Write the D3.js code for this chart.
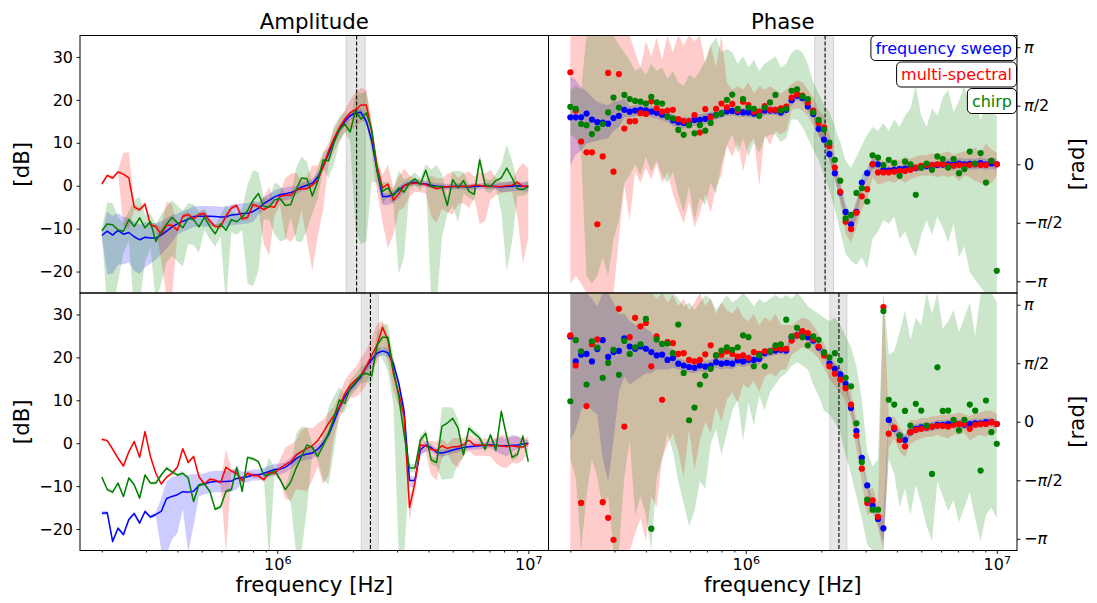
<!DOCTYPE html>
<html><head><meta charset="utf-8">
<script src="https://cdn.jsdelivr.net/npm/d3@7"></script>
<style>body{margin:0;background:#fff}text{font-family:"DejaVu Sans",sans-serif;fill:#000}</style>
</head><body><svg id="c" width="1097" height="603"></svg>
<script>
// ---------- DATA ----------
const freqKHz = [200,210.2,220.8,232.0,243.8,256.2,269.2,282.9,297.2,312.3,
328.2,344.8,362.3,380.7,400.0,420.3,441.6,464.1,487.6,512.4,
538.4,565.7,594.4,624.6,656.3,689.6,724.6,761.4,800.0,840.6,
883.3,928.2,975.3,1024.8,1076.8,1131.5,1188.9,1249.3,1312.7,1379.3,
1449.3,1522.9,1600.2,1681.4,1766.8,1856.5,1950.7,2049.7,2153.8,2263.1,
2378.0,2498.7,2625.6,2758.9,2898.9,3046.1,3200.7,3363.2,3533.9,3713.3,
3901.8,4099.9,4308.0,4526.7,4756.5,4998.0,5251.7,5518.3,5798.4,6092.8,
6402.1,6727.1,7068.6,7427.4,7804.5,8200.7,8617.0,9054.4,9514.0,10000];
const seriesNames = ["frequency sweep","multi-spectral","chirp"];
const ampTicks = [-20,-10,0,10,20,30];
const phaseTickLabels = ["−π","−π/2","0","π/2","π"];
const xMajorTicks = [1e6,1e7];
const spanTopKHz = [1880,2240], dashTopKHz = 2070;
const spanBotKHz = [2160,2530], dashBotKHz = 2350;

// top amplitude [dB]
const ampTopFS = [-11.6,-10.6,-11.5,-10.4,-11.3,-10.9,-11.9,-12.6,-12.0,-12.2,
-12.2,-11.5,-10.6,-9.6,-8.9,-8.3,-7.8,-7.2,-7.1,-7.1,
-7.1,-7.2,-7.3,-7.3,-6.8,-6.7,-6.5,-6.4,-6.0,-5.3,
-4.2,-3.4,-2.6,-2.1,-1.9,-1.6,-1.1,-0.3,0.1,0.6,
2.0,4.5,7.5,10.5,13.0,15.0,16.3,17.0,17.1,15.0,
10.5,3.5,-2.5,-2.5,-2.0,-1.0,0.0,0.6,0.8,0.5,
0.4,0.1,-0.1,-0.2,-0.3,-0.2,-0.1,-0.2,-0.3,-0.2,
-0.1,0.0,-0.1,-0.2,-0.3,-0.2,-0.1,0.0,-0.1,-0.2];
const ampTopFSup = [0.5,4.5,4.5,4.0,4.0,3.5,3.5,3.5,3.5,3.5,
3.5,3.2,3.0,2.8,2.4,2.4,2.4,2.4,2.4,2.4,
2.4,2.4,2.4,2.4,2.4,2.4,2.4,2.4,2.4,1.5,
1.5,1.5,1.5,1.5,1.5,1.5,1.0,1.0,1.0,1.0,
1.0,1.0,1.0,1.0,1.0,1.0,1.0,1.0,1.0,1.0,
1.0,1.0,0.8,0.8,0.8,0.8,0.8,0.7,0.7,0.7,
0.7,0.7,0.7,0.7,0.7,0.7,0.7,0.7,0.7,0.7,
0.7,0.7,0.7,0.7,1.0,1.0,1.0,1.0,1.0,1.0];
const ampTopFSdn = [0.5,10,9,8,7,7,8,8,7,6,
5,4.5,4,3.5,2.4,2.4,2.4,2.4,2.4,2.4,
2.4,2.4,2.4,2.4,2.4,2.4,2.4,2.4,2.4,1.5,
1.5,1.5,1.5,1.5,1.5,1.5,1.0,1.0,1.0,1.0,
1.0,1.0,1.0,1.0,1.0,1.0,1.0,1.0,1.0,1.0,
1.0,1.5,2.0,2.0,2.0,2.0,1.5,0.7,0.7,0.7,
0.7,0.7,0.7,0.7,0.7,0.7,0.7,0.7,0.7,0.7,
0.7,0.7,0.7,0.7,1.2,1.2,1.2,1.2,1.2,1.2];
const ampTopMS = [0.4,2.4,1.8,3.2,2.7,1.8,-5.0,-5.6,-4.3,-9.1,
-9.5,-11.4,-9.2,-9.2,-10.4,-7.1,-6.7,-7.7,-6.7,-6.5,
-8.3,-9.5,-9.5,-7.1,-5.2,-4.6,-7.7,-7.4,-4.4,-4.8,
-5.6,-4.8,-5.0,-2.5,-2.2,-2.2,-1.0,-0.7,-0.7,0.2,
1.2,4.5,8.0,11.0,13.5,15.5,17.0,17.7,18.8,18.8,
12.5,4.5,-0.5,0.4,-3.4,-1.9,0.0,0.4,0.6,0.5,
0.2,-0.2,-0.7,-0.4,-0.2,-0.2,-0.2,-0.1,-0.2,0.1,
0.1,-0.2,-0.2,-0.2,-0.2,0.0,0.1,0.8,-0.2,0.0];
const ampTopMSup = [0.4,0.4,0.4,0.4,5,6,0.6,0.6,0.6,0.6,
0.6,2,5.5,5,0.6,0.6,0.6,0.6,0.6,0.6,
0.6,0.6,0.6,0.6,0.6,0.6,0.6,0.6,0.6,0.6,
3,4.5,1,1,4,5,4,2,3,4.5,
3.5,3,2,2,2,2,3,4,4,3.5,
2,2,3,4.5,3,4,4,2,1,1,
1,2.5,2.5,2,3,3.5,2,3,3.5,2,
3,3,4,2,1,1,1,3,5.5,4];
const ampTopMSdn = [0.4,0.4,0.4,0.4,12,12,0.6,0.6,0.6,0.6,
0.6,6,17,17,0.6,0.6,0.6,0.6,0.6,0.6,
0.6,0.6,0.6,0.6,0.6,0.6,0.6,0.6,0.6,0.6,
8,11.5,2,2,10,11,10,5,12,20,
13,10,3,3,3,3,4,4,4,3.5,
5,6,8,15,8,4,5,3,2,2,
2,7,8,5,6,6.5,4,4,5,3,
9,8,3,2,1.5,1.5,1.5,8,18,12];
const ampTopCH = [-10.5,-8.9,-9.1,-10.3,-10.6,-7.9,-9.5,-7.5,-9.8,-8.4,
-13.0,-10.7,-8.9,-7.4,-8.6,-9.8,-7.6,-7.9,-9.6,-7.3,
-9.5,-11.2,-8.9,-10.4,-7.9,-8.4,-7.3,-5.8,-3.4,-1.8,
-4.8,-5.0,-3.3,-3.0,-4.6,-4.4,-0.9,1.8,1.6,-2.4,
1.0,6.0,5.8,10.0,13.0,14.4,12.5,17.5,15.5,17.0,
13.0,3.5,-1.3,-0.5,-2.4,-0.5,-1.5,0.6,1.6,0.3,
3.6,-0.2,-0.2,-0.2,-4.6,1.4,-0.5,1.2,-1.3,-2.0,
6.0,0.2,-0.2,1.2,1.8,4.1,1.8,-0.7,-0.9,-0.2];
const ampTopCHup = [0.5,5,5,3,2,2,6,5,3,2,
4,4,4,4,4,4,3.5,3.5,3.5,2,
2,2,2,6,2,2,2,6,7,5,
2,2,4,3,3,2,5,5,4,3,
3,2,3,4,3,3,2,4,6,5,
2,2,2,1.5,1.5,4,3,1.5,1.5,1.5,
1.5,4,5,3,2,2,4,2,1.5,1.5,
1.5,1.5,1.5,1.5,3,5.5,4,1.5,1.5,1.5];
const ampTopCHdn = [0.5,20,20,12,5,5,20,20,8,6,
14,12,9,9,9,9,6,6,6,3,
3,3,3,17,3,3,3,17,20,18,
3,3,8,10,8,3,12,15,12,4,
4,2,4,5,3,2,2,28,29,30,
12,3,3,2,2,20,15,1.5,1.5,1.5,
1.5,26,28,12,2,6,8,3,1.5,1.5,
1.5,1.5,1.5,1.5,8,24,15,1.5,1.5,1.5];

// top phase [rad]
const phTopFS = [1.26,1.26,1.26,1.36,1.20,1.13,1.12,1.09,1.24,1.30,
1.46,1.41,1.44,1.46,1.45,1.41,1.38,1.33,1.28,1.18,
1.13,1.11,1.12,1.19,1.19,1.22,1.28,1.32,1.36,1.42,
1.43,1.40,1.39,1.39,1.36,1.38,1.44,1.44,1.44,1.39,
1.46,1.72,1.84,1.78,1.55,1.35,0.95,0.66,0.27,-0.24,
-0.76,-1.28,-1.61,-1.28,-0.49,-0.24,0.0,0.0,-0.15,-0.17,
-0.15,-0.13,-0.12,-0.10,-0.10,-0.08,-0.05,-0.03,-0.02,-0.01,
0.0,0.0,0.02,0.0,0.01,0.0,0.03,0.0,0.02,0.0];
const phTopFSup = [1.1,1.0,0.8,0.6,0.6,0.55,0.5,0.5,0.45,0.4,
0.3,0.15,0.15,0.15,0.15,0.15,0.15,0.15,0.15,0.15,
0.15,0.15,0.15,0.15,0.15,0.15,0.12,0.12,0.12,0.12,
0.12,0.12,0.12,0.12,0.12,0.12,0.12,0.12,0.12,0.12,
0.12,0.12,0.12,0.12,0.12,0.12,0.15,0.15,0.15,0.15,
0.2,0.2,0.2,0.2,0.2,0.15,0.15,0.1,0.1,0.1,
0.1,0.1,0.1,0.1,0.1,0.1,0.1,0.1,0.1,0.1,
0.15,0.15,0.15,0.15,0.15,0.15,0.15,0.15,0.15,0.15];
const phTopFSdn = [1.3,1.0,0.9,0.8,0.6,0.5,0.45,0.4,0.35,0.3,
0.2,0.15,0.15,0.15,0.15,0.15,0.15,0.15,0.15,0.15,
0.15,0.15,0.15,0.15,0.15,0.15,0.12,0.12,0.12,0.12,
0.12,0.12,0.12,0.12,0.12,0.12,0.12,0.12,0.12,0.12,
0.12,0.12,0.12,0.12,0.12,0.12,0.15,0.15,0.15,0.15,
0.2,0.2,0.2,0.2,0.2,0.15,0.15,0.1,0.1,0.1,
0.1,0.1,0.1,0.1,0.1,0.1,0.1,0.1,0.1,0.1,
0.15,0.15,0.15,0.15,0.15,0.15,0.15,0.15,0.15,0.15];
const phTopMS = [2.47,1.44,0.61,0.32,0.32,-1.61,0.21,2.45,-0.20,2.42,
0.96,1.15,1.16,1.37,1.35,1.69,1.50,1.41,1.44,1.46,
1.21,1.16,1.16,1.32,0.85,1.48,1.26,1.49,1.63,1.53,
1.62,1.44,1.68,1.59,1.41,1.41,1.56,1.46,1.46,1.50,
1.55,1.79,1.88,1.84,1.66,1.44,1.11,0.99,0.49,-0.09,
-0.74,-1.54,-1.74,-1.30,-0.86,-0.67,0.0,-0.22,-0.22,-0.22,
-0.20,-0.18,-0.18,-0.15,-0.09,-0.04,-0.02,-0.02,0.0,0.0,
-0.04,-0.04,-0.02,-0.04,-0.02,0.0,-0.02,-0.02,0.09,0.0];
const phTopMSlo = [-3.2,-3.0,-3.2,-3.46,-3.46,-3.46,-3.46,-3.46,-3.46,-2.0,
-0.6,-1.5,-0.2,-0.5,-0.1,-0.4,0.0,-0.5,-0.2,-0.8,
-1.2,-1.6,-1.0,-1.7,-1.3,-0.8,-1.3,-0.6,-0.3,0.5,
0.2,0.6,-0.2,0.5,0.7,-0.6,0.8,0.5,0.9,0.8,
0.9,1.45,1.5,1.45,1.3,1.05,0.75,0.6,0.15,-0.4,
-1.05,-1.85,-2.1,-1.7,-1.2,-0.95,-0.35,-0.55,-0.5,-0.45,
-0.5,-0.4,-0.5,-0.4,-0.35,-0.3,-0.3,-0.3,-0.35,-0.3,
-0.35,-0.3,-0.45,-0.3,-0.35,-0.45,-0.5,-0.6,-0.5,-0.3];
const phTopMShi = [3.46,3.46,3.46,3.46,3.46,3.46,3.46,3.46,3.46,3.46,
3.46,3.46,3.0,2.6,3.3,2.9,3.4,2.8,3.46,3.0,
3.46,3.2,3.46,3.3,3.46,2.7,3.2,2.6,3.46,2.2,
2.0,2.1,2.0,2.2,1.9,2.1,2.0,2.1,2.0,1.9,
2.0,2.15,2.25,2.2,2.0,1.8,1.45,1.3,0.8,0.2,
-0.4,-1.25,-1.4,-0.95,-0.5,-0.35,0.35,0.2,0.1,0.05,
0.15,0.1,0.2,0.15,0.2,0.25,0.25,0.3,0.25,0.3,
0.35,0.25,0.3,0.35,0.35,0.45,0.3,0.55,0.4,0.3];
const phTopCH = [1.54,1.49,1.08,1.05,0.81,0.96,1.08,1.39,1.79,1.52,
1.86,1.75,1.70,1.68,1.63,1.81,1.66,1.63,1.28,1.23,
0.92,0.79,1.05,0.83,1.05,0.90,1.11,1.32,1.37,1.73,
1.87,1.49,1.75,1.52,1.49,1.30,1.52,1.66,1.86,1.44,
1.49,1.97,2.01,1.82,1.75,1.39,1.19,0.93,0.58,0.12,
-0.44,-1.45,-1.36,-0.77,-0.64,-1.00,0.24,0.18,-0.02,0.12,
0.03,-0.31,0.07,0.00,-0.82,-0.09,0.02,-0.15,0.21,0.14,
-0.09,0.14,-0.24,-0.13,0.34,0.02,0.30,-0.49,0.09,-2.86];
const phTopCHlo = [0.8,0.7,0.3,-3.0,-3.2,-3.0,-2.5,-3.0,-2.0,-1.5,
-0.5,-0.3,0.0,-0.3,0.2,-0.2,0.1,-0.3,-0.5,-0.2,
-0.8,-1.3,-0.6,-1.5,-0.9,-1.1,-0.5,-0.8,0.0,0.5,
0.8,0.3,0.7,0.2,0.6,0.3,0.7,0.8,0.8,0.6,
0.7,1.2,1.2,1.0,0.7,0.4,0.1,-0.3,-0.7,-1.2,
-1.8,-2.4,-2.6,-2.7,-2.5,-2.8,-2.0,-1.8,-1.5,-1.6,
-1.4,-2.0,-1.8,-2.2,-2.5,-1.9,-1.5,-1.9,-1.4,-1.7,
-2.1,-1.6,-2.5,-2.2,-2.9,-3.1,-3.3,-3.5,-3.5,-3.5];
const phTopCHhi = [2.0,2.1,2.0,3.46,3.46,3.46,3.46,3.46,3.46,3.2,
3.0,2.8,2.5,2.6,2.4,2.7,2.5,2.6,2.3,2.5,
2.2,2.1,2.4,2.3,2.5,2.8,3.2,3.4,3.0,3.1,
3.0,2.7,2.9,2.6,2.8,2.5,2.7,2.8,2.9,2.6,
2.7,3.0,3.1,3.0,2.7,2.2,1.9,1.6,1.4,1.0,
0.6,0.1,-0.1,0.2,0.5,0.8,1.0,0.9,1.1,0.9,
1.2,1.0,1.3,1.5,2.1,1.3,1.0,1.5,1.3,1.8,
2.0,1.4,1.7,2.1,1.5,1.7,1.2,1.6,1.4,1.3];

// bottom amplitude [dB]
const ampBotFS = [-16.3,-16.2,-22.9,-19.8,-21.3,-17.8,-16.4,-18.6,-15.9,-17.2,
-16.6,-15.9,-12.9,-12.4,-12.0,-11.3,-11.4,-11.2,-9.8,-9.5,
-9.1,-8.9,-8.9,-8.9,-8.8,-8.2,-8.0,-7.8,-7.4,-7.4,
-7.0,-6.6,-6.1,-6.0,-5.6,-4.7,-3.6,-2.9,-2.5,-2.3,
-1.4,0.0,2.0,5.0,8.3,10.8,12.6,14.0,15.5,17.8,
19.5,21.0,21.5,21.1,18.6,14.0,7.5,-8.7,-8.7,-1.6,
-0.4,-1.0,-2.1,-2.3,-2.0,-1.6,-1.3,-1.0,-0.8,-0.7,
-0.6,-0.5,-0.4,-0.5,-0.6,-0.6,-0.5,-0.4,-0.2,0.0];
const ampBotFSup = [0.5,0.5,0.5,0.5,0.5,0.5,0.5,0.5,0.5,0.5,
0.5,3,4,4.5,4.5,4,4,4,2.5,2.5,
2.5,2.5,2.5,2.5,2.5,2.5,1.3,1.3,1.3,1.3,
1.3,1.3,1.3,1.3,1.3,1.3,1.3,1.3,1.3,1.3,
1.3,1,1,1,1,1,1,1,1,1,
1,1,1,1,1,1,1,1,1,1,
1,0.8,0.8,0.8,0.8,0.8,0.8,0.8,0.8,0.8,
0.8,0.8,0.8,1.5,2,1.5,2.5,2,1,0.8];
const ampBotFSdn = [0.5,0.5,0.5,0.5,0.5,0.5,0.5,0.5,0.5,0.5,
0.5,9,13,10,9,4,14,8,2.5,2.5,
2.5,2.5,2.5,2.5,2.5,2.5,1.3,1.3,1.3,1.3,
1.3,1.3,1.3,1.3,1.3,1.3,1.3,1.3,1.3,1.3,
1.3,1,1,1,1,1,1,1,1,1,
1,1,1,1,1,1,1,1.5,1.5,1.5,
1.5,0.8,0.8,0.8,0.8,0.8,0.8,0.8,0.8,0.8,
0.8,0.8,0.8,1.5,2,2.5,1.5,1,1,0.8];
const ampBotMS = [0.9,0.6,-1.4,-3.5,-5.3,-2.0,0.4,-3.3,2.7,-3.1,
-7.0,-9.5,-7.9,-7.0,-5.6,-1.3,-4.5,-3.1,-7.8,-9.5,
-8.4,-8.6,-9.2,-5.6,-6.5,-7.0,-8.7,-7.0,-7.5,-7.6,
-8.5,-6.8,-7.0,-5.8,-5.0,-4.3,-2.8,-1.9,-1.2,-0.6,
0.6,2.5,4.6,6.5,8.5,11.5,13.5,14.7,15.8,17.8,
20.5,22.9,27.0,24.0,16.3,11.6,6.2,-15.0,-9.3,-0.4,
-0.6,-1.4,-1.7,-0.6,-1.2,-0.8,-0.8,-0.3,0.7,-0.4,
-0.4,-0.4,-0.6,-0.6,-0.6,-0.8,-0.6,-0.8,-0.9,0.0];
const ampBotMSup = [0.4,0.4,0.4,0.4,0.4,0.4,0.4,0.4,0.4,0.4,
0.4,0.4,0.4,0.4,0.4,0.4,0.4,0.4,0.4,0.4,
0.4,0.4,0.4,4.2,0.6,0.6,0.6,0.6,0.6,0.6,
0.6,0.6,0.6,2,4,4,3.5,5,5,4,
4,3,2.5,2,3,3,3,3,4,4,
4,5,1.5,1.5,3,3,3,2,2,2,
1,2,2,1.5,1,2,2,1.5,1.5,1.5,
1.5,1.5,1.5,2,2.5,2.5,2,2.5,2,1.5];
const ampBotMSdn = [0.4,0.4,0.4,0.4,0.4,0.4,0.4,0.4,0.4,0.4,
0.4,0.4,0.4,0.4,0.4,0.4,0.4,0.4,0.4,0.4,
0.4,0.4,0.4,20,0.6,0.6,0.6,0.6,0.6,0.6,
0.6,0.6,0.6,3,8,9,8,9,10,8,
6,12,12,5,3,3,3,4,4,4,
3,4,4,5,4,3,3,3,2,2,
1.5,6,7,3,1,4,5,2.5,2.5,2.5,
2.5,2.5,2.5,4,5,5,4,4,3,2];
const ampBotCH = [-7.9,-10.8,-11.4,-9.3,-12.4,-8.1,-9.7,-12.8,-7.4,-9.3,
-9.3,-7.4,-5.8,-6.7,-7.4,-7.0,-8.1,-13.6,-9.7,-9.5,
-11.2,-15.4,-14.8,-11.2,-10.8,-5.6,-11.2,-3.3,-3.6,-4.3,
-7.4,-7.4,-6.4,-8.4,-10.8,-9.0,-5.8,-3.1,-0.4,-1.0,
-3.1,-0.5,2.3,6.0,10.1,9.3,12.8,14.2,15.9,16.3,
15.7,22.9,24.7,24.7,17.1,10.9,2.0,-5.8,-5.8,0.7,
2.3,-3.9,-4.5,3.9,4.7,5.8,3.5,-2.7,3.5,2.3,
1.2,-1.4,1.9,-1.6,7.4,1.6,-3.3,-2.6,1.6,-4.3];
const ampBotCHup = [0.4,0.4,0.4,0.4,0.4,0.4,0.4,0.4,0.4,0.4,
0.4,0.4,0.4,0.4,0.4,0.4,0.4,0.4,0.4,0.4,
0.4,0.4,0.4,0.4,0.4,0.4,0.4,0.4,0.4,0.4,
0.4,4,0.5,0.5,0.5,3,8,7,4,1,
1,2,6,5,3,2,2,2,2,2,
2,3,3,3,3,3,3,1,1,1,
1,1,1,4.5,3.7,2.5,2,0.8,0.8,0.8,
0.8,0.8,0.8,0.8,0.8,0.8,0.8,0.8,0.8,0.8];
const ampBotCHdn = [0.4,0.4,0.4,0.4,0.4,0.4,0.4,0.4,0.4,0.4,
0.4,0.4,0.4,0.4,0.4,0.4,0.4,0.4,0.4,0.4,
0.4,0.4,0.4,0.4,0.4,0.4,0.4,0.4,0.4,0.4,
0.4,20,0.5,0.5,0.5,5,20,22,15,1,
1,8,12,8,3,2,2,2,2,2,
2,2,5,8,8,37,28,1,1,1,
1,1,1,12.4,13,14,8,0.8,0.8,0.8,
0.8,0.8,0.8,0.8,0.8,0.8,0.8,0.8,0.8,0.8];

// bottom phase [rad]
const phBotFS = [2.29,1.62,1.80,1.82,1.62,1.95,2.19,1.74,1.87,1.90,
2.24,2.02,1.96,2.02,1.96,1.87,1.78,1.80,1.66,1.71,
1.56,1.51,1.47,1.45,1.51,1.48,1.51,1.60,1.56,1.58,
1.56,1.65,1.62,1.66,1.66,1.69,1.84,1.88,1.91,1.93,
1.91,2.27,2.32,2.41,2.27,2.18,1.99,1.84,1.57,1.42,
1.27,1.02,0.37,-0.25,-0.97,-1.71,-2.25,-2.61,-2.86,0.05,
-0.19,-0.37,-0.49,-0.28,-0.19,-0.15,-0.15,-0.13,-0.08,-0.08,
-0.06,-0.06,-0.06,-0.08,-0.06,-0.04,-0.04,-0.01,-0.01,-0.06];
const phBotFSlo = [-0.5,-0.2,0.3,0.5,0.3,0.2,-1.0,-1.6,-0.5,0.8,
1.2,1.0,1.1,1.2,1.3,1.3,1.4,1.4,1.4,1.45,
1.41,1.36,1.32,1.30,1.36,1.33,1.36,1.45,1.41,1.43,
1.41,1.50,1.47,1.51,1.51,1.54,1.72,1.76,1.79,1.81,
1.79,2.15,2.20,2.29,2.15,2.06,1.87,1.72,1.45,1.30,
1.15,0.90,0.25,-0.37,-1.09,-1.83,-2.37,-2.73,-3.25,-0.07,
-0.31,-0.49,-0.61,-0.40,-0.31,-0.27,-0.27,-0.25,-0.20,-0.20,
-0.18,-0.18,-0.18,-0.20,-0.18,-0.16,-0.16,-0.13,-0.13,-0.18];
const phBotFShi = [3.46,3.46,3.46,3.46,3.3,3.1,3.46,3.46,3.2,2.9,
2.9,2.7,2.6,2.6,2.5,2.4,2.2,2.1,2.0,1.95,
1.71,1.66,1.62,1.60,1.66,1.63,1.66,1.75,1.71,1.73,
1.71,1.80,1.77,1.81,1.81,1.84,1.96,2.00,2.03,2.05,
2.03,2.39,2.44,2.53,2.39,2.30,2.11,1.96,1.69,1.54,
1.39,1.14,0.49,-0.13,-0.85,-1.59,-2.13,-2.49,-2.5,0.17,
-0.07,-0.25,-0.37,-0.16,-0.07,-0.03,-0.03,-0.01,0.04,0.04,
0.06,0.06,0.06,0.04,0.06,0.08,0.08,0.11,0.11,0.06];
const phBotMS = [2.32,1.51,-2.18,0.42,2.08,2.21,-2.16,-2.58,-3.17,3.03,
-0.13,2.27,2.79,2.56,2.65,1.49,2.29,0.59,2.14,2.11,
1.82,1.84,1.66,1.62,1.66,1.81,2.05,1.78,1.80,1.89,
1.82,1.75,1.78,1.71,1.87,1.82,1.89,1.89,1.98,1.96,
1.96,2.18,2.32,2.43,2.38,2.22,2.02,1.78,1.49,1.29,
1.13,0.90,0.46,-0.37,-1.26,-2.18,-2.11,-2.55,3.08,-0.32,
-0.16,-0.49,-0.66,-0.28,-0.22,-0.19,-0.16,-0.13,-0.11,-0.11,
-0.13,-0.08,-0.06,-0.06,-0.19,-0.08,-0.06,-0.06,-0.01,-0.06];
const phBotMSlo = [-3.46,-3.46,-3.46,-3.46,-3.46,-3.46,-3.46,-3.46,-3.46,-3.46,
-3.46,-3.46,-3.0,-2.6,-3.2,-2.0,-2.3,-1.0,-0.6,-0.3,
-0.8,-1.5,-0.2,-1.3,-0.5,0.0,-0.3,0.4,0.0,0.6,
0.8,0.5,1.0,0.9,1.1,0.8,1.2,1.3,1.2,1.4,
1.4,1.8,1.9,2.0,1.95,1.85,1.7,1.45,1.15,0.95,
0.8,0.55,0.1,-0.75,-1.6,-2.5,-2.45,-2.85,-3.46,-0.7,
-0.45,-0.8,-0.95,-0.6,-0.5,-0.45,-0.4,-0.4,-0.35,-0.4,
-0.45,-0.35,-0.35,-0.3,-0.5,-0.4,-0.35,-0.4,-0.3,-0.3];
const phBotMShi = [3.46,3.46,3.46,3.46,3.46,3.46,3.46,3.46,3.46,3.46,
3.46,3.46,3.46,3.46,3.46,3.46,3.3,3.46,3.2,3.4,
3.1,3.3,3.0,3.2,3.46,3.1,3.3,2.9,3.2,3.0,
2.9,3.1,2.8,2.7,2.9,2.6,2.8,2.7,2.9,2.6,
2.6,2.6,2.7,2.8,2.75,2.6,2.35,2.1,1.8,1.6,
1.45,1.25,0.8,0.05,-0.9,-1.85,-1.75,-2.2,3.46,0.1,
0.15,-0.15,-0.35,0.05,0.05,0.1,0.1,0.15,0.15,0.2,
0.2,0.2,0.25,0.2,0.15,0.25,0.25,0.3,0.3,0.2];
const phBotCH = [0.55,2.19,1.89,1.00,2.16,1.99,1.18,1.58,1.93,1.26,
2.17,1.82,2.00,2.08,2.76,-2.87,2.21,2.09,2.10,1.84,
2.61,1.31,0.04,0.38,1.00,1.24,1.42,1.78,1.91,2.00,
1.93,2.00,2.32,2.27,1.49,1.78,1.49,1.89,2.05,2.08,
2.74,2.29,2.52,2.27,2.05,2.29,2.20,1.86,1.73,1.84,
1.65,1.18,0.95,-0.04,-1.08,-2.09,-2.36,-2.36,2.97,0.59,
0.46,-0.37,0.29,-0.10,0.48,0.30,-0.10,-1.40,1.46,0.29,
0.30,0.05,-0.23,0.05,0.46,0.30,-1.31,0.57,-0.28,-0.59];
const phBotCHlo = [-1.0,-1.5,-3.46,-2.0,-1.0,-1.5,-2.3,-2.0,-3.46,-3.46,
-1.5,-0.5,-2.5,-2.0,-2.5,-3.46,-1.5,-1.0,-0.3,-0.8,
-1.6,-2.2,-2.8,-2.4,-1.6,-1.8,-0.6,-0.2,-0.9,-0.3,
0.3,0.6,-0.5,0.5,-0.1,0.7,0.3,0.8,1.0,1.2,
1.3,1.5,1.6,1.5,1.4,1.0,0.7,0.3,0.2,0.0,
-0.3,-0.9,-1.4,-2.0,-2.6,-3.3,-3.46,-3.46,-3.46,-1.0,
-1.4,-2.3,-1.8,-2.5,-1.7,-2.2,-2.8,-3.2,-1.6,-2.0,
-2.4,-2.1,-2.7,-2.3,-1.9,-2.6,-3.2,-2.5,-2.3,-2.6];
const phBotCHhi = [3.46,3.46,3.46,3.46,3.46,3.46,3.46,3.46,3.46,3.46,
3.46,3.46,3.46,3.46,3.46,3.46,3.46,3.46,3.46,3.46,
3.3,3.1,3.2,3.0,3.2,3.4,3.3,3.0,3.2,3.4,
3.2,3.3,3.46,3.3,3.1,3.3,3.2,3.3,3.4,3.3,
3.4,3.3,3.46,3.3,3.1,3.0,2.9,2.8,2.7,2.8,
2.6,2.3,2.0,1.5,0.6,-0.8,-1.2,-1.0,3.46,1.8,
1.9,2.4,3.0,2.2,2.8,2.6,3.46,2.9,3.46,2.5,
2.7,3.0,2.4,2.8,3.2,2.3,3.46,3.46,3.46,3.2];

// ---------- CHECK ----------
{
  const all = {ampTopFS,ampTopFSup,ampTopFSdn,ampTopMS,ampTopMSup,ampTopMSdn,ampTopCH,ampTopCHup,ampTopCHdn,
    phTopFS,phTopFSup,phTopFSdn,phTopMS,phTopMSlo,phTopMShi,phTopCH,phTopCHlo,phTopCHhi,
    ampBotFS,ampBotFSup,ampBotFSdn,ampBotMS,ampBotMSup,ampBotMSdn,ampBotCH,ampBotCHup,ampBotCHdn,
    phBotFS,phBotFSlo,phBotFShi,phBotMS,phBotMSlo,phBotMShi,phBotCH,phBotCHlo,phBotCHhi};
  const bad = Object.entries(all).filter(([k,v])=>v.length!==freqKHz.length).map(([k,v])=>k+':'+v.length);
  if (bad.length) throw new Error('length mismatch ' + bad.join(', '));
}

// ---------- DRAW ----------
const svg = d3.select('#c');
const X0 = 80, XM = 548.5, X1 = 1017, Y0 = 35.5, YM = 293, Y1 = 550.5;
const fDomain = [163.7e3, 12.035e6];
const xL = d3.scaleLog().domain(fDomain).range([X0, XM]);
const xR = d3.scaleLog().domain(fDomain).range([XM, X1]);
const PH = 1.1 * Math.PI;
const yAmpT = d3.scaleLinear().domain([-25, 35]).range([YM, Y0]);
const yAmpB = d3.scaleLinear().domain([-25, 35]).range([Y1, YM]);
const yPhT = d3.scaleLinear().domain([-PH, PH]).range([YM, Y0]);
const yPhB = d3.scaleLinear().domain([-PH, PH]).range([Y1, YM]);
const COL = ["#0000ff", "#ff0000", "#008000"];
const fHz = freqKHz.map(f => f * 1e3);

const fromErr = (val, up, dn, ci) => ({val, lo: val.map((v,i)=>v-dn[i]), hi: val.map((v,i)=>v+up[i]), color: COL[ci]});
const fromLH = (val, lo, hi, ci) => ({val, lo, hi, color: COL[ci]});

let clipN = 0;
function panel(x, y, series, span, dash, mode) {
  const [xa, xb] = x.range(), [yb, ya] = y.range();
  const id = 'clip' + (clipN++);
  svg.append('clipPath').attr('id', id).append('rect')
    .attr('x', xa).attr('y', ya).attr('width', xb - xa).attr('height', yb - ya);
  const c = svg.append('g').attr('clip-path', `url(#${id})`);
  c.append('rect').attr('x', x(span[0]*1e3)).attr('width', x(span[1]*1e3) - x(span[0]*1e3))
    .attr('y', ya).attr('height', yb - ya)
    .attr('fill', '#808080').attr('fill-opacity', 0.2)
    .attr('stroke', '#808080').attr('stroke-opacity', 0.25);
  series.forEach(s => {
    const area = d3.area().x((d,i)=>x(fHz[i])).y0((d,i)=>y(s.lo[i])).y1((d,i)=>y(s.hi[i]));
    c.append('path').datum(s.val).attr('d', area).attr('fill', s.color).attr('fill-opacity', 0.2);
  });
  c.append('line').attr('x1', x(dash*1e3)).attr('x2', x(dash*1e3)).attr('y1', ya).attr('y2', yb)
    .attr('stroke', '#000').attr('stroke-width', 1.1).attr('stroke-dasharray', '4,2');
  series.forEach(s => {
    if (mode === 'line') {
      c.append('path').datum(s.val)
        .attr('d', d3.line().x((d,i)=>x(fHz[i])).y(d=>y(d)))
        .attr('fill', 'none').attr('stroke', s.color).attr('stroke-width', 1.5).attr('stroke-linejoin','round');
    } else {
      c.append('g').selectAll('circle').data(s.val).join('circle')
        .attr('cx', (d,i)=>x(fHz[i])).attr('cy', d=>y(d)).attr('r', 3.1).attr('fill', s.color);
    }
  });
  svg.append('rect').attr('x', xa).attr('y', ya).attr('width', xb - xa).attr('height', yb - ya)
    .attr('fill', 'none').attr('stroke', '#000').attr('stroke-width', 1);
}

panel(xL, yAmpT, [fromErr(ampTopFS,ampTopFSup,ampTopFSdn,0), fromErr(ampTopMS,ampTopMSup,ampTopMSdn,1), fromErr(ampTopCH,ampTopCHup,ampTopCHdn,2)], spanTopKHz, dashTopKHz, 'line');
panel(xR, yPhT, [fromErr(phTopFS,phTopFSup,phTopFSdn,0), fromLH(phTopMS,phTopMSlo,phTopMShi,1), fromLH(phTopCH,phTopCHlo,phTopCHhi,2)], spanTopKHz, dashTopKHz, 'dot');
panel(xL, yAmpB, [fromErr(ampBotFS,ampBotFSup,ampBotFSdn,0), fromErr(ampBotMS,ampBotMSup,ampBotMSdn,1), fromErr(ampBotCH,ampBotCHup,ampBotCHdn,2)], spanBotKHz, dashBotKHz, 'line');
panel(xR, yPhB, [fromLH(phBotFS,phBotFSlo,phBotFShi,0), fromLH(phBotMS,phBotMSlo,phBotMShi,1), fromLH(phBotCH,phBotCHlo,phBotCHhi,2)], spanBotKHz, dashBotKHz, 'dot');

// ---------- AXES ----------
function styleAxis(g) {
  g.select('.domain').remove();
  g.selectAll('.tick line').attr('stroke', '#000').attr('stroke-width', 0.9);
  g.selectAll('.tick text').attr('font-size', 16).attr('font-family', '"DejaVu Sans", sans-serif');
}
const fmtMinus = d => d < 0 ? '−' + Math.abs(d) : String(d);
[yAmpT, yAmpB].forEach(y => {
  svg.append('g').attr('transform', `translate(${X0},0)`)
    .call(d3.axisLeft(y).tickValues(ampTicks).tickSize(3.5).tickPadding(3.5).tickFormat(fmtMinus))
    .call(styleAxis);
});
const phTickVals = [-Math.PI, -Math.PI/2, 0, Math.PI/2, Math.PI];
[yPhT, yPhB].forEach(y => {
  const g = svg.append('g').attr('transform', `translate(${X1},0)`)
    .call(d3.axisRight(y).tickValues(phTickVals).tickSize(3.5).tickPadding(3.5).tickFormat(''))
    .call(styleAxis);
  g.selectAll('.tick text').each(function(d, i) {
    const t = d3.select(this).text(null);
    const lab = phaseTickLabels[i];
    lab.split(/(π)/).filter(s => s.length).forEach(part => {
      const ts = t.append('tspan').text(part);
      if (part === 'π') ts.attr('font-style', 'italic');
    });
  });
});
const minorTicks = [];
[1e5, 1e6].forEach(dec => { for (let k = 2; k <= 9; k++) minorTicks.push(k * dec); });
[xL, xR].forEach(x => {
  const mt = minorTicks.filter(v => v >= fDomain[0] && v <= fDomain[1]);
  svg.append('g').attr('transform', `translate(0,${Y1})`)
    .call(d3.axisBottom(x).tickValues(mt).tickSize(2).tickFormat(''))
    .call(styleAxis);
  const g = svg.append('g').attr('transform', `translate(0,${Y1})`)
    .call(d3.axisBottom(x).tickValues(xMajorTicks).tickSize(3.5).tickPadding(3.5).tickFormat(''))
    .call(styleAxis);
  g.selectAll('.tick text').each(function(d) {
    const t = d3.select(this).text(null).attr('y', 19.5).attr('dy', null);
    t.append('tspan').text('10');
    t.append('tspan').text(String(Math.round(Math.log10(d)))).attr('font-size', 11.2).attr('dy', -6.5);
  });
});

// ---------- LABELS ----------
const FS = 21.3;
const cxL = (X0 + XM) / 2, cxR = (XM + X1) / 2;
svg.append('text').attr('x', cxL).attr('y', 29).attr('text-anchor', 'middle').attr('font-size', FS).text('Amplitude');
svg.append('text').attr('x', cxR).attr('y', 29).attr('text-anchor', 'middle').attr('font-size', FS).text('Phase');
[cxL, cxR].forEach(cx => svg.append('text').attr('x', cx).attr('y', 592).attr('text-anchor', 'middle').attr('font-size', FS).text('frequency [Hz]'));
[(Y0 + YM) / 2, (YM + Y1) / 2].forEach(cy => {
  svg.append('text').attr('transform', `translate(29,${cy}) rotate(-90)`).attr('text-anchor', 'middle').attr('font-size', FS).text('[dB]');
  svg.append('text').attr('transform', `translate(1084,${cy}) rotate(-90)`).attr('text-anchor', 'middle').attr('font-size', FS).text('[rad]');
});

// ---------- LEGEND ----------
const lg = svg.append('g');
const boxTops = [35.5, 62, 88.5];
seriesNames.forEach((name, i) => {
  const g = lg.append('g');
  const t = g.append('text').attr('font-size', 16).style('fill', COL[i]).text(name);
  const w = t.node().getComputedTextLength();
  const bw = w + 9, bh = 25, bx = X1 - 0.5 - bw, by = boxTops[i];
  g.insert('rect', 'text').attr('x', bx).attr('y', by).attr('width', bw).attr('height', bh)
    .attr('rx', 4.5).attr('fill', '#fff').attr('stroke', '#000').attr('stroke-width', 1);
  t.attr('x', bx + 4.5).attr('y', by + 18);
});
</script></body></html>
